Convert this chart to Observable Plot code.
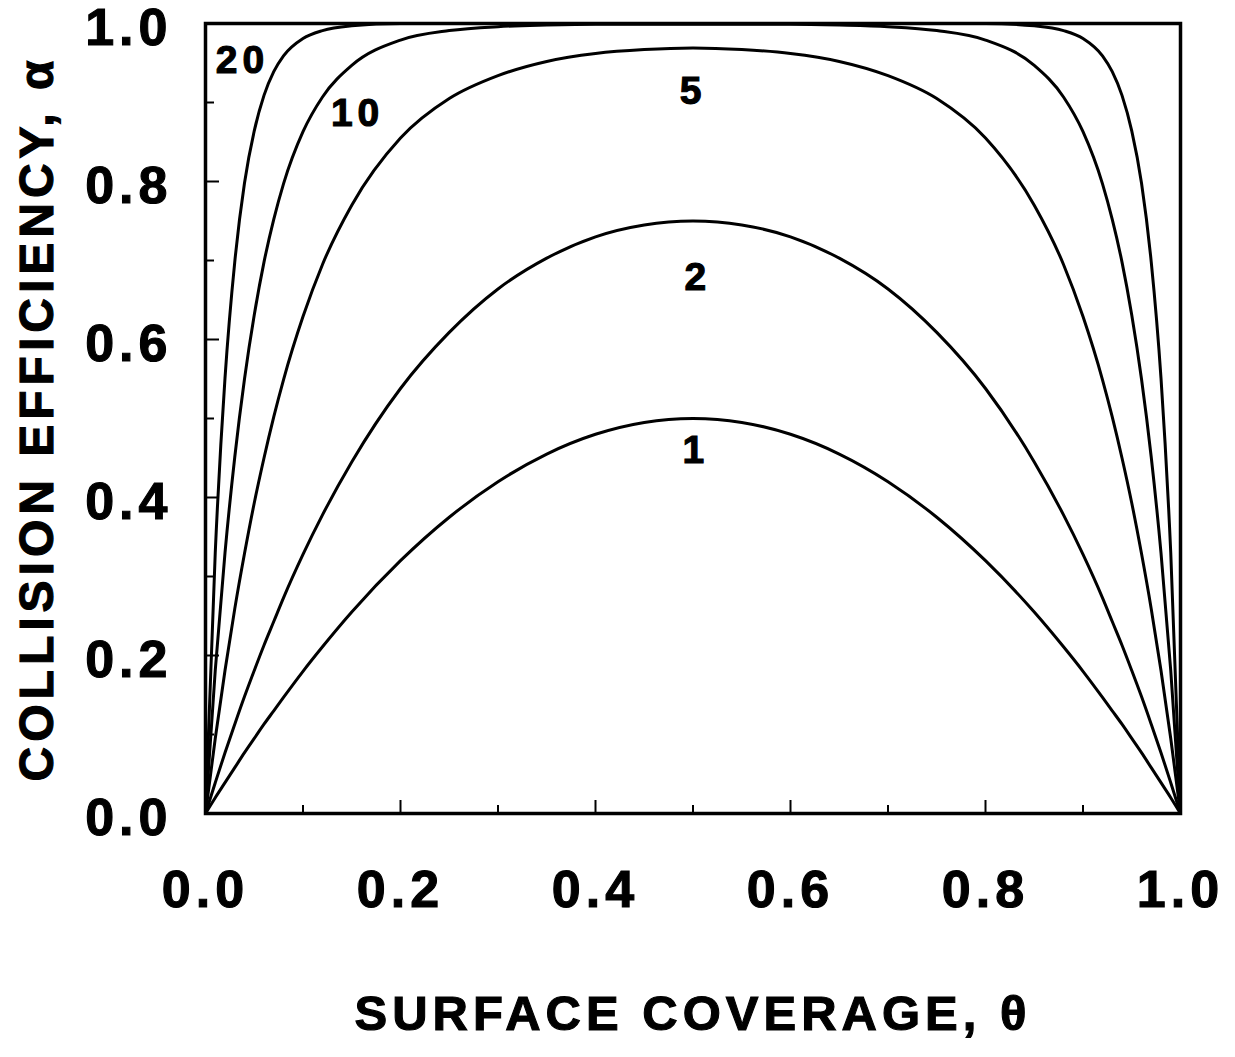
<!DOCTYPE html>
<html>
<head>
<meta charset="utf-8">
<script src="https://cdn.jsdelivr.net/npm/d3@7"></script>
<script src="https://cdn.jsdelivr.net/npm/@observablehq/plot@0.6"></script>
<style>
  html, body { margin: 0; padding: 0; background: white; }
  #chart svg text { stroke: black; stroke-width: 1.1px; paint-order: stroke; }
</style>
</head>
<body>
<div id="chart"></div>
<script>
// Surface coverage θ sample points
const theta = [0, 0.01, 0.02, 0.03, 0.04, 0.05, 0.06, 0.07, 0.08, 0.10, 0.12, 0.15, 0.20, 0.25, 0.30, 0.35, 0.40, 0.45, 0.50,
               0.55, 0.60, 0.65, 0.70, 0.75, 0.80, 0.85, 0.88, 0.90, 0.92, 0.93, 0.94, 0.95, 0.96, 0.97, 0.98, 0.99, 1.0];

// Collision efficiency α for each curve
const alpha1 = [0, 0.020, 0.039, 0.058, 0.077, 0.095, 0.113, 0.130, 0.147, 0.180, 0.211, 0.255, 0.320, 0.375, 0.420, 0.455, 0.480, 0.495, 0.500,
                0.495, 0.480, 0.455, 0.420, 0.375, 0.320, 0.255, 0.211, 0.180, 0.147, 0.130, 0.113, 0.095, 0.077, 0.058, 0.039, 0.020, 0];
const alpha2 = [0, 0.039, 0.077, 0.113, 0.148, 0.181, 0.213, 0.243, 0.273, 0.328, 0.378, 0.445, 0.538, 0.609, 0.664, 0.703, 0.730, 0.745, 0.750,
                0.745, 0.730, 0.703, 0.664, 0.609, 0.538, 0.445, 0.378, 0.328, 0.273, 0.243, 0.213, 0.181, 0.148, 0.113, 0.077, 0.039, 0];
const alpha5 = [0, 0.095, 0.181, 0.259, 0.329, 0.393, 0.450, 0.502, 0.549, 0.629, 0.695, 0.770, 0.855, 0.905, 0.934, 0.952, 0.962, 0.967, 0.969,
                0.967, 0.962, 0.952, 0.934, 0.905, 0.855, 0.770, 0.695, 0.629, 0.549, 0.502, 0.450, 0.393, 0.329, 0.259, 0.181, 0.095, 0];
const alpha10 = [0, 0.181, 0.330, 0.451, 0.550, 0.631, 0.698, 0.752, 0.797, 0.863, 0.907, 0.947, 0.979, 0.991, 0.996, 0.998, 0.999, 0.999, 0.999,
                 0.999, 0.999, 0.998, 0.996, 0.991, 0.979, 0.947, 0.907, 0.863, 0.797, 0.752, 0.698, 0.631, 0.550, 0.451, 0.330, 0.181, 0];
const alpha20 = [0, 0.330, 0.551, 0.698, 0.798, 0.864, 0.909, 0.939, 0.959, 0.981, 0.991, 0.997, 1.0, 1.0, 1.0, 1.0, 1.0, 1.0, 1.0,
                 1.0, 1.0, 1.0, 1.0, 1.0, 1.0, 0.997, 0.991, 0.981, 0.959, 0.939, 0.909, 0.864, 0.798, 0.698, 0.551, 0.330, 0];

const seriesNames = ["1", "2", "5", "10", "20"];
const seriesValues = [alpha1, alpha2, alpha5, alpha10, alpha20];

// Curve label annotations (data coordinates)
const labelText = ["20", "10", "5", "2", "1"];
const labelTheta = [0.038, 0.156, 0.500, 0.505, 0.503];
const labelAlpha = [0.953, 0.886, 0.914, 0.678, 0.460];

// Ticks
const majorTicks = [0.2, 0.4, 0.6, 0.8];
const minorTicks = [0.1, 0.3, 0.5, 0.7, 0.9];
const tickValues = [0, 0.2, 0.4, 0.6, 0.8, 1.0];
const tickLabels = ["0.0", "0.2", "0.4", "0.6", "0.8", "1.0"];

const xTitle = "SURFACE COVERAGE, θ";
const yTitle = "COLLISION EFFICIENCY, α";

const rows = [];
seriesNames.forEach((name, s) => {
  theta.forEach((t, i) => rows.push({n: name, theta: t, alpha: seriesValues[s][i]}));
});

const fmt = d => tickLabels[tickValues.findIndex(v => Math.abs(v - d) < 1e-9)];

const chart = Plot.plot({
  width: 1235,
  height: 1057,
  marginLeft: 205,
  marginRight: 55,
  marginTop: 23,
  marginBottom: 244,
  x: {domain: [0, 1]},
  y: {domain: [0, 1]},
  style: {
    fontFamily: "'Liberation Sans', Arial, Helvetica, sans-serif",
    fontWeight: "bold",
    letterSpacing: "5px",
    color: "black",
    background: "white"
  },
  marks: [
    Plot.line(rows, {x: "theta", y: "alpha", z: "n", stroke: "black", strokeWidth: 3, curve: "monotone-x"}),
    Plot.axisX(majorTicks, {tickSize: -13, tickFormat: () => "", strokeWidth: 2, label: null}),
    Plot.axisX(minorTicks, {tickSize: -8, tickFormat: () => "", strokeWidth: 2, label: null}),
    Plot.axisY(majorTicks, {tickSize: -14, tickFormat: () => "", strokeWidth: 2, label: null}),
    Plot.axisY(minorTicks, {tickSize: -9, tickFormat: () => "", strokeWidth: 2, label: null}),
    Plot.axisX(tickValues, {tickSize: 0, tickPadding: 57, fontSize: 52, tickFormat: fmt, label: null}),
    Plot.axisY(tickValues, {tickSize: 0, tickPadding: 33, dy: 5, fontSize: 52, tickFormat: fmt, label: null}),
    Plot.frame({stroke: "black", strokeWidth: 3.5}),
    Plot.text(labelText, {x: (d, i) => labelTheta[i], y: (d, i) => labelAlpha[i], text: d => d, fontSize: 39, fill: "black"}),
    Plot.text([xTitle], {frameAnchor: "bottom", dy: 216, text: d => d, fontSize: 49, fill: "black"}),
    Plot.text([yTitle], {frameAnchor: "left", dx: -168, rotate: -90, textAnchor: "middle", text: d => d, fontSize: 48, fill: "black"})
  ]
});

document.getElementById("chart").appendChild(chart);
</script>
</body>
</html>
